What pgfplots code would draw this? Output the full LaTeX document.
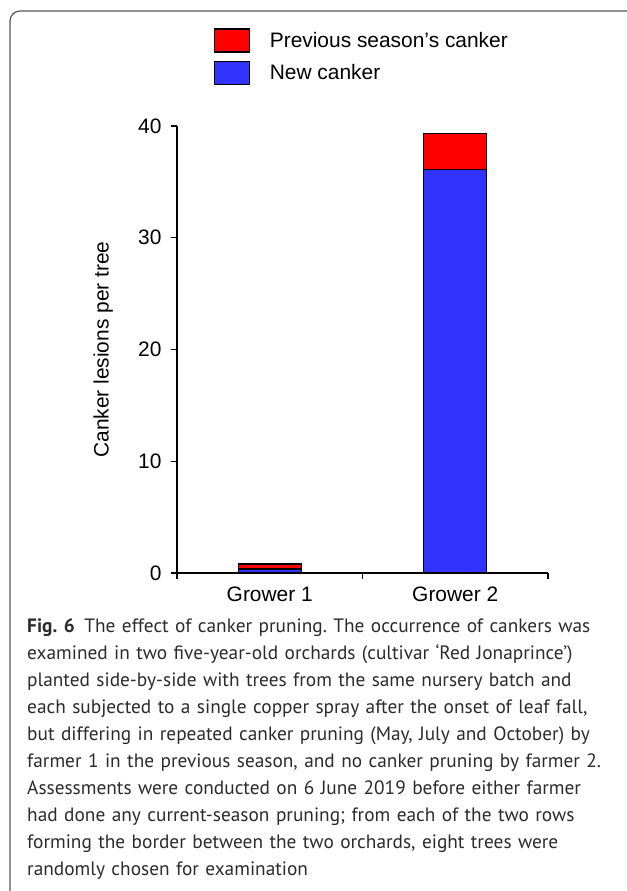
\documentclass[border=0pt]{standalone}
\usepackage{fontspec}
\setmainfont{Liberation Sans}
\newfontfamily\capfont[Ligatures=TeX]{PT Sans}
\usepackage{pgfplots}
\pgfplotsset{compat=1.18}
\definecolor{prevred}{HTML}{FF0000}
\definecolor{newblue}{HTML}{3333FF}
\definecolor{framegray}{HTML}{555555}
\definecolor{captext}{HTML}{2B2B2B}
\pgfplotsset{sqleg/.style={legend image code/.code={\draw[##1, line width=1.3bp] (0bp,-11.5bp) rectangle (35bp,11.5bp); \path[draw=none, fill=none] (0bp,0bp) -- (53bp,0bp);}}}
\begin{document}
\frenchspacing
\begin{tikzpicture}
\path[use as bounding box] (0,0) rectangle (627bp,891bp);
\draw[framegray, line width=1.2bp, rounded corners=10bp] (10bp,-5bp) -- (10bp,880bp) -- (640bp,880bp);
\begin{axis}[
  at={(177bp,318bp)}, anchor=south west,
  scale only axis, width=371bp, height=447bp,
  ybar stacked, bar width=63bp,
  xmin=-0.5, xmax=1.5, ymin=0, ymax=40,
  axis lines=left, axis line style={-, line width=1.3bp},
  xtick={-0.5,0.5,1.5}, xticklabels={},
  extra x ticks={0,1}, extra x tick labels={Grower 1,Grower 2},
  extra x tick style={major tick length=0pt, xticklabel style={yshift=-10bp}},
  ytick={0,10,20,30,40},
  tick align=outside, major tick length=6bp,
  tick style={black, line width=1.3bp},
  /pgf/number format/assume math mode=true,
  tick label style={font=\fontsize{21}{25}\selectfont},
  yticklabel style={xshift=-6bp},
  ylabel={Canker lesions per tree},
  ylabel style={at={(rel axis cs:-0.199,0.5)}, anchor=center, font=\fontsize{21}{25}\selectfont},
  legend style={at={(axis description cs:0.0997,1.219)}, anchor=north west,
    draw=none, fill=none, inner sep=0pt, row sep=8bp,
    font=\fontsize{21}{25}\selectfont, cells={anchor=west}},
  reverse legend,
]
\addplot[fill=newblue, draw=black, line width=1.3bp, sqleg] coordinates {(0,0.35) (1,36.1)};
\addlegendentry{New canker}
\addplot[fill=prevred, draw=black, line width=1.3bp, sqleg] coordinates {(0,0.45) (1,3.2)};
\addlegendentry{Previous season’s canker}
\end{axis}
\node[anchor=base west, inner sep=0pt, text width=610bp, align=left, text=captext,
  font=\capfont\fontsize{19.4}{27}\selectfont] at (27bp,258bp)
  {\textbf{Fig. 6}\hspace{0.5em}The effect of canker pruning. The occurrence of cankers was\\
  examined in two five-year-old orchards (cultivar ‘Red Jonaprince’)\\
  planted side-by-side with trees from the same nursery batch and\\
  each subjected to a single copper spray after the onset of leaf fall,\\
  but differing in repeated canker pruning (May, July and October) by\\
  farmer 1 in the previous season, and no canker pruning by farmer 2.\\
  Assessments were conducted on 6 June 2019 before either farmer\\
  had done any current-season pruning; from each of the two rows\\
  forming the border between the two orchards, eight trees were\\
  randomly chosen for examination};
\end{tikzpicture}
\end{document}
